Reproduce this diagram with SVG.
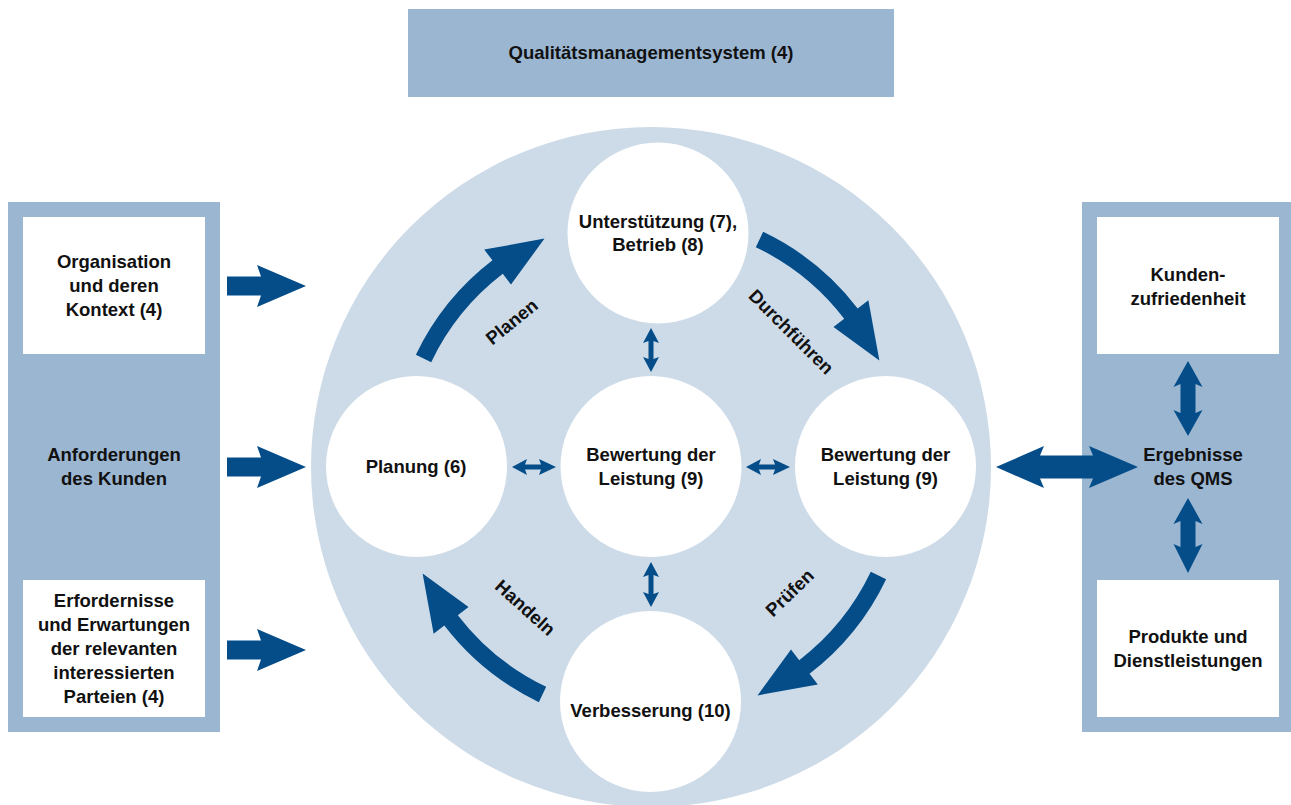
<svg xmlns="http://www.w3.org/2000/svg" xmlns:xlink="http://www.w3.org/1999/xlink" width="1291" height="805" viewBox="0 0 1291 805">
<style>
.panel{fill:#9bb6d1}
.box{fill:#ffffff}
.big{fill:#cddbe8}
.node{fill:#ffffff}
.arr{fill:#044d89}
text{font-family:"Liberation Sans",Arial,sans-serif;font-weight:bold;font-size:18.5px;fill:#111111;text-anchor:middle}
</style>
<defs>
<path id="arc" d="M886.13,579.15 A260.5,260.5 0 0 1 809.58,673.67 L817.8,684.38 L757.5,695.39 L791.01,649.47 L799.23,660.18 A243.5,243.5 0 0 0 870.78,571.83 Z"/>
</defs>
<rect width="1291" height="805" fill="#ffffff"/>

<g id="qms">
<rect class="panel" x="408" y="9" width="486" height="88"/>
<text x="651" y="59">Qualitätsmanagementsystem (4)</text>
</g>

<g id="left-panel">
<rect class="panel" x="8" y="202" width="212" height="530"/>
</g>
<g id="organisation">
<rect class="box" x="23" y="217" width="182" height="137"/>
<text x="114" y="268">Organisation</text>
<text x="114" y="292">und deren</text>
<text x="114" y="316">Kontext (4)</text>
</g>
<g id="anforderungen">
<text x="114" y="461">Anforderungen</text>
<text x="114" y="485">des Kunden</text>
</g>
<g id="erfordernisse">
<rect class="box" x="23" y="580" width="182" height="137"/>
<text x="114" y="607">Erfordernisse</text>
<text x="114" y="631">und Erwartungen</text>
<text x="114" y="655">der relevanten</text>
<text x="114" y="679">interessierten</text>
<text x="114" y="703">Parteien (4)</text>
</g>

<g id="right-panel">
<rect class="panel" x="1082" y="202" width="212" height="530"/>
</g>
<g id="kundenzufriedenheit">
<rect class="box" x="1097" y="217" width="182" height="137"/>
<text x="1188" y="281">Kunden-</text>
<text x="1188" y="305">zufriedenheit</text>
</g>
<g id="ergebnisse">
<text x="1193" y="461">Ergebnisse</text>
<text x="1193" y="485">des QMS</text>
</g>
<g id="produkte">
<rect class="box" x="1097" y="580" width="182" height="137"/>
<text x="1188" y="643">Produkte und</text>
<text x="1188" y="667">Dienstleistungen</text>
</g>

<g id="pdca-circle">
<circle class="big" cx="651" cy="467" r="340"/>
</g>
<g id="unterstuetzung">
<circle class="node" cx="658" cy="233" r="90.5"/>
<text x="658" y="228">Unterstützung (7),</text>
<text x="658" y="251">Betrieb (8)</text>
</g>
<g id="planung">
<circle class="node" cx="416.5" cy="466.5" r="90.5"/>
<text x="416" y="473">Planung (6)</text>
</g>
<g id="bewertung-mitte">
<circle class="node" cx="651" cy="466.5" r="90.5"/>
<text x="651" y="461">Bewertung der</text>
<text x="651" y="485">Leistung (9)</text>
</g>
<g id="bewertung-rechts">
<circle class="node" cx="885.5" cy="466.5" r="90.5"/>
<text x="885.5" y="461">Bewertung der</text>
<text x="885.5" y="485">Leistung (9)</text>
</g>
<g id="verbesserung">
<circle class="node" cx="650.5" cy="701.5" r="90.5"/>
<text x="650.5" y="717">Verbesserung (10)</text>
</g>

<g id="connectors">
<use xlink:href="#arc" href="#arc" class="arr"/>
<use xlink:href="#arc" href="#arc" class="arr" transform="rotate(90 651 467)"/>
<use xlink:href="#arc" href="#arc" class="arr" transform="rotate(180 651 467)"/>
<use xlink:href="#arc" href="#arc" class="arr" transform="rotate(270 651 467)"/>
<path class="arr" d="M227,276.5 L261,276.5 L257,265 L306,286 L257,307 L261,295.5 L227,295.5 Z"/>
<path class="arr" d="M227,457.5 L261,457.5 L257,446 L306,467 L257,488 L261,476.5 L227,476.5 Z"/>
<path class="arr" d="M227,640.5 L261,640.5 L257,629 L306,650 L257,671 L261,659.5 L227,659.5 Z"/>
<path class="arr" d="M996,467 L1044,446 L1040,455.5 L1093,455.5 L1089,446 L1138,467 L1089,488 L1093,478.5 L1040,478.5 L1044,488 Z"/>
<path class="arr" d="M1188,361 L1202.5,387 L1195.5,384 L1195.5,413 L1202.5,410 L1188,436 L1173.5,410 L1180.5,413 L1180.5,384 L1173.5,387 Z"/>
<path class="arr" d="M1188,498 L1202.5,524 L1195.5,521 L1195.5,547 L1202.5,544 L1188,573 L1173.5,544 L1180.5,547 L1180.5,521 L1173.5,524 Z"/>
<path class="arr" d="M512,467 L527,459 L525,464.5 L541,464.5 L539,459 L556,467 L539,475 L541,469.5 L525,469.5 L527,475 Z"/>
<path class="arr" d="M746,467 L761,459 L759,464.5 L775,464.5 L773,459 L790,467 L773,475 L775,469.5 L759,469.5 L761,475 Z"/>
<path class="arr" d="M651,328 L659,343 L653.5,341 L653.5,359 L659,357 L651,372 L643,357 L648.5,359 L648.5,341 L643,343 Z"/>
<path class="arr" d="M651,562 L659,577 L653.5,575 L653.5,594 L659,592 L651,607 L643,592 L648.5,594 L648.5,575 L643,577 Z"/>
<text transform="translate(512,322) rotate(-39)" x="0" y="6">Planen</text>
<text transform="translate(791,332) rotate(45)" x="0" y="6">Durchführen</text>
<text transform="translate(790,593) rotate(-44)" x="0" y="6">Prüfen</text>
<text transform="translate(525,608) rotate(42)" x="0" y="6">Handeln</text>
</g>
</svg>
